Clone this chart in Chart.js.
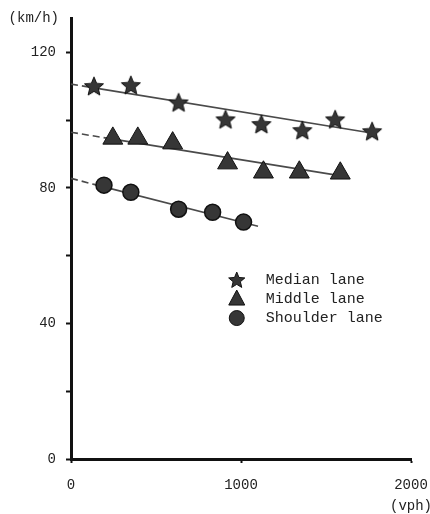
<!DOCTYPE html>
<html>
<head>
<meta charset="utf-8">
<script src="https://cdn.jsdelivr.net/npm/chart.js@4.4.1/dist/chart.umd.min.js"></script>
<style>
  html, body { margin: 0; padding: 0; background: #fff; }
  #wrap { position: relative; width: 430px; height: 514px; }
</style>
</head>
<body>
<div id="wrap"><canvas id="chart"></canvas></div>
<script>
// Speed vs. flow by lane - scatter points with fitted lines
const medianFlow = [135, 352, 633, 909, 1120, 1361, 1554, 1771];
const medianSpeed = [110.0, 110.3, 105.2, 100.2, 98.8, 97.0, 100.2, 96.7];
const middleFlow = [246, 393, 598, 921, 1132, 1343, 1584];
const middleSpeed = [94.6, 94.6, 93.2, 87.3, 84.6, 84.6, 84.3];
const shoulderFlow = [194, 352, 633, 833, 1015];
const shoulderSpeed = [80.8, 78.7, 73.7, 72.8, 69.9];

// fitted lines: start (dashed part), end of dashed part, end of line
const medianFitFlow = [0, 100, 1740];
const medianFitSpeed = [110.6, 109.8, 96.4];
const middleFitFlow = [0, 220, 1580];
const middleFitSpeed = [96.4, 94.6, 83.6];
const shoulderFitFlow = [0, 130, 1100];
const shoulderFitSpeed = [82.8, 81.1, 68.7];

const xTicks = [0, 1000, 2000];
const yTicks = [0, 20, 40, 60, 80, 100, 120];
const yLabelled = [0, 40, 80, 120];
const seriesNames = ['Median lane', 'Middle lane', 'Shoulder lane'];
const xUnit = '(vph)';
const yUnit = '(km/h)';

const FONT = '14px "Liberation Mono", monospace';
const KEY_FONT = '15px "Liberation Mono", monospace';
const MARK_FILL = '#363636';
const MARK_EDGE = '#111';

function pts(xs, ys) {
    return xs.map(function (v, i) { return { x: v, y: ys[i] }; });
}

// filled five point star as an image, chart.js 'star' is only a cross
function makeStar(outer) {
    const inner = outer * 0.45;
    const size = Math.ceil(outer * 2 + 2);
    const c = document.createElement('canvas');
    c.width = size;
    c.height = size;
    const g = c.getContext('2d');
    drawStar(g, size / 2, size / 2 + outer * 0.08, outer, inner);
    return c;
}

function drawStar(g, cx, cy, outer, inner) {
    g.beginPath();
    for (let i = 0; i < 10; i++) {
        const r = i % 2 === 0 ? outer : inner;
        const a = -Math.PI / 2 + i * Math.PI / 5;
        const px = cx + Math.cos(a) * r;
        const py = cy + Math.sin(a) * r;
        if (i === 0) g.moveTo(px, py); else g.lineTo(px, py);
    }
    g.closePath();
    g.fillStyle = MARK_FILL;
    g.fill();
    g.strokeStyle = MARK_EDGE;
    g.lineWidth = 1;
    g.stroke();
}

const starImg = makeStar(10);

function fitLine(xs, ys) {
    return {
        type: 'line',
        data: pts(xs, ys),
        showLine: true,
        borderColor: '#4a4a4a',
        borderWidth: 1.6,
        pointRadius: 0,
        pointHoverRadius: 0,
        fill: false,
        tension: 0,
        order: 2,
        segment: {
            borderDash: function (ctx) { return ctx.p0DataIndex === 0 ? [7, 4] : []; }
        }
    };
}

// axis units and the key inside the plot
const unitsAndKey = {
    id: 'unitsAndKey',
    afterDraw: function (chart) {
        const ctx = chart.ctx;
        const xs = chart.scales.x;
        const ys = chart.scales.y;
        const area = chart.chartArea;

        ctx.save();
        ctx.font = FONT;
        ctx.fillStyle = '#222';
        ctx.textBaseline = 'middle';
        ctx.textAlign = 'right';
        ctx.fillText(yUnit, area.left - 12, area.top);
        ctx.textAlign = 'center';
        ctx.fillText(xUnit, xs.getPixelForValue(2000), area.bottom + 47);

        const kx = xs.getPixelForValue(975);
        let ky = ys.getPixelForValue(52.8);
        const step = 19;

        // star
        drawStar(ctx, kx, ky + 0.5, 8.5, 3.8);
        // triangle
        const ty = ky + step;
        ctx.beginPath();
        ctx.moveTo(kx, ty - 9);
        ctx.lineTo(kx + 8, ty + 6);
        ctx.lineTo(kx - 8, ty + 6);
        ctx.closePath();
        ctx.fillStyle = MARK_FILL;
        ctx.fill();
        ctx.strokeStyle = MARK_EDGE;
        ctx.lineWidth = 1;
        ctx.stroke();
        // circle
        const cy = ky + step * 2;
        ctx.beginPath();
        ctx.arc(kx, cy, 7.5, 0, Math.PI * 2);
        ctx.fillStyle = MARK_FILL;
        ctx.fill();
        ctx.stroke();

        ctx.font = KEY_FONT;
        ctx.fillStyle = '#222';
        ctx.textAlign = 'left';
        seriesNames.forEach(function (name, i) {
            ctx.fillText(name, kx + 29, ky + i * step);
        });
        ctx.restore();
    }
};

new Chart(document.getElementById('chart'), {
    type: 'scatter',
    data: {
        datasets: [
            {
                label: seriesNames[0],
                data: pts(medianFlow, medianSpeed),
                pointStyle: starImg,
                pointRadius: 10,
                order: 1
            },
            {
                label: seriesNames[1],
                data: pts(middleFlow, middleSpeed),
                pointStyle: 'triangle',
                pointRadius: 11.5,
                backgroundColor: MARK_FILL,
                borderColor: MARK_EDGE,
                borderWidth: 1,
                order: 1
            },
            {
                label: seriesNames[2],
                data: pts(shoulderFlow, shoulderSpeed),
                pointStyle: 'circle',
                pointRadius: 8,
                backgroundColor: MARK_FILL,
                borderColor: MARK_EDGE,
                borderWidth: 1.5,
                order: 1
            },
            fitLine(medianFitFlow, medianFitSpeed),
            fitLine(middleFitFlow, middleFitSpeed),
            fitLine(shoulderFitFlow, shoulderFitSpeed)
        ]
    },
    options: {
        responsive: true,
        maintainAspectRatio: false,
        animation: false,
        clip: false,
        layout: {
            padding: { top: 18, right: 19, bottom: 0, left: 0 }
        },
        plugins: {
            legend: { display: false },
            tooltip: { enabled: false }
        },
        scales: {
            x: {
                type: 'linear',
                min: 0,
                max: 2000,
                afterBuildTicks: function (s) { s.ticks = xTicks.map(function (v) { return { value: v }; }); },
                afterFit: function (s) {
                    s.height = 55;
                    // the label padding would otherwise shrink the plot on the right
                    s.paddingLeft = 0;
                    s.paddingRight = 0;
                },
                ticks: {
                    font: { family: 'Liberation Mono', size: 14 },
                    color: '#222',
                    padding: 14,
                    maxRotation: 0,
                    autoSkip: false,
                    callback: function (v) { return String(v); }
                },
                grid: {
                    drawOnChartArea: false,
                    drawTicks: true,
                    tickLength: 4,
                    tickWidth: 2,
                    tickColor: '#111'
                },
                border: { display: true, color: '#111', width: 3 }
            },
            y: {
                type: 'linear',
                min: 0,
                max: 130,
                afterBuildTicks: function (s) { s.ticks = yTicks.map(function (v) { return { value: v }; }); },
                afterFit: function (s) { s.width = 71; },
                ticks: {
                    font: { family: 'Liberation Mono', size: 14 },
                    color: '#222',
                    padding: 10,
                    autoSkip: false,
                    callback: function (v) { return yLabelled.indexOf(v) >= 0 ? String(v) : ''; }
                },
                grid: {
                    drawOnChartArea: false,
                    drawTicks: true,
                    tickLength: 5,
                    tickWidth: 2,
                    tickColor: '#111'
                },
                border: { display: true, color: '#111', width: 3 }
            }
        }
    },
    plugins: [unitsAndKey]
});
</script>
</body>
</html>
